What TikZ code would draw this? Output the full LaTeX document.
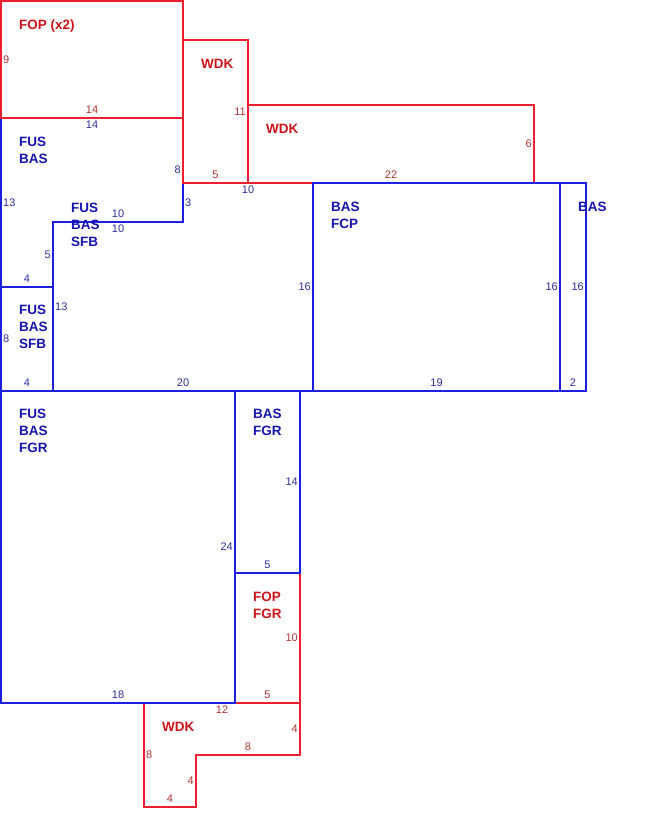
\documentclass[tikz,border=0pt]{standalone}
\usepackage{fontspec}
\setmainfont{Liberation Sans}
\definecolor{lred}{RGB}{240,30,50}
\definecolor{lblue}{RGB}{30,30,225}
\definecolor{tred}{RGB}{205,20,25}
\definecolor{tblue}{RGB}{20,20,175}
\definecolor{nred}{RGB}{175,50,50}
\definecolor{nblue}{RGB}{45,45,155}
\begin{document}
\begin{tikzpicture}[x=1pt,y=-1pt,
  redwall/.style={draw=lred,line width=1.6pt,line join=miter},
  bluewall/.style={draw=lblue,line width=1.6pt,line join=miter},
  rlab/.style={text=tred,font=\fontsize{13.5}{16.8}\selectfont\bfseries,align=left,anchor=north west,inner sep=0pt},
  blab/.style={text=tblue,font=\fontsize{13.5}{16.8}\selectfont\bfseries,align=left,anchor=north west,inner sep=0pt},
  rnum/.style={text=nred,font=\fontsize{11}{13}\selectfont,inner sep=0pt},
  bnum/.style={text=nblue,font=\fontsize{11}{13}\selectfont,inner sep=0pt}]
\useasboundingbox (0,0) rectangle (656,834);
\begin{scope}[shift={(1,1)}]
% blue rooms (upper)
\draw[bluewall] (0,117) -- (182,117) -- (182,221) -- (52,221) -- (52,286) -- (0,286) -- cycle;
\draw[bluewall] (52,221) -- (182,221) -- (182,182) -- (312,182) -- (312,390) -- (52,390) -- cycle;
\draw[bluewall] (0,286) rectangle (52,390);
% red rooms (upper)
\draw[redwall] (0,0) rectangle (182,117);
\draw[redwall] (182,39) rectangle (247,182);
\draw[redwall] (247,104) rectangle (533,182);
% blue rooms right
\draw[bluewall] (312,182) rectangle (559,390);
\draw[bluewall] (559,182) rectangle (585,390);
% red rooms lower
\draw[redwall] (143,702) -- (299,702) -- (299,754) -- (195,754) -- (195,806) -- (143,806) -- cycle;
\draw[redwall] (234,572) rectangle (299,702);
% blue rooms lower
\draw[bluewall] (0,390) rectangle (234,702);
\draw[bluewall] (234,390) rectangle (299,572);

% room labels
\node[rlab] (lfop) at (18,18.5) {FOP (x2)};
\node[rlab] (lwdka) at (200,58) {WDK};
\node[rlab] (lwdkb) at (265,123) {WDK};
\node[blab] (lfusbas) at (18,136) {FUS\\BAS};
\node[blab] (lsfba) at (70,202) {FUS\\BAS\\SFB};
\node[blab] (lsfbb) at (18,304) {FUS\\BAS\\SFB};
\node[blab] (lfcp) at (330,201) {BAS\\FCP};
\node[blab] (lbas) at (577,201) {BAS};
\node[blab] (lfgr) at (18,408) {FUS\\BAS\\FGR};
\node[blab] (lbasfgr) at (252,408) {BAS\\FGR};
\node[rlab] (lfopfgr) at (252,591) {FOP\\FGR};
\node[rlab] (lwdkc) at (161,721) {WDK};

% red dimensions
\node[rnum,anchor=west] (r1) at (2,58.5) {9};
\node[rnum,anchor=south] (r2) at (91,113) {14};
\node[rnum,anchor=east] (r3) at (245,110.5) {11};
\node[rnum,anchor=south] (r4) at (214.5,178) {5};
\node[rnum,anchor=east] (r5) at (531,143) {6};
\node[rnum,anchor=south] (r6) at (390,178) {22};
\node[rnum,anchor=east] (r7) at (297,637) {10};
\node[rnum,anchor=south] (r8) at (266.5,698) {5};
\node[rnum,anchor=north] (r9) at (221,704.5) {12};
\node[rnum,anchor=east] (r10) at (297,728) {4};
\node[rnum,anchor=south] (r11) at (247,750) {8};
\node[rnum,anchor=west] (r12) at (145,754) {8};
\node[rnum,anchor=east] (r13) at (193,780) {4};
\node[rnum,anchor=south] (r14) at (169,802) {4};

% blue dimensions
\node[bnum,anchor=north] (b1) at (91,120) {14};
\node[bnum,anchor=east] (b2) at (180,169) {8};
\node[bnum,anchor=north] (b3) at (247,184.5) {10};
\node[bnum,anchor=west] (b4) at (2,201.5) {13};
\node[bnum,anchor=west] (b5) at (184,201.5) {3};
\node[bnum,anchor=south] (b6) at (117,217) {10};
\node[bnum,anchor=north] (b7) at (117,223.5) {10};
\node[bnum,anchor=east] (b8) at (50,253.5) {5};
\node[bnum,anchor=south] (b9) at (26,282) {4};
\node[bnum,anchor=west] (b10) at (54,305.5) {13};
\node[bnum,anchor=west] (b11) at (2,338) {8};
\node[bnum,anchor=south] (b12) at (26,386) {4};
\node[bnum,anchor=south] (b13) at (182,386) {20};
\node[bnum,anchor=east] (b14) at (310,286) {16};
\node[bnum,anchor=east] (b15) at (557,286) {16};
\node[bnum,anchor=east] (b16) at (583,286) {16};
\node[bnum,anchor=south] (b17) at (435.5,386) {19};
\node[bnum,anchor=south] (b18) at (572,386) {2};
\node[bnum,anchor=east] (b19) at (297,481) {14};
\node[bnum,anchor=east] (b20) at (232,546) {24};
\node[bnum,anchor=south] (b21) at (266.5,568) {5};
\node[bnum,anchor=south] (b22) at (117,698) {18};
\end{scope}
\end{tikzpicture}
\end{document}
